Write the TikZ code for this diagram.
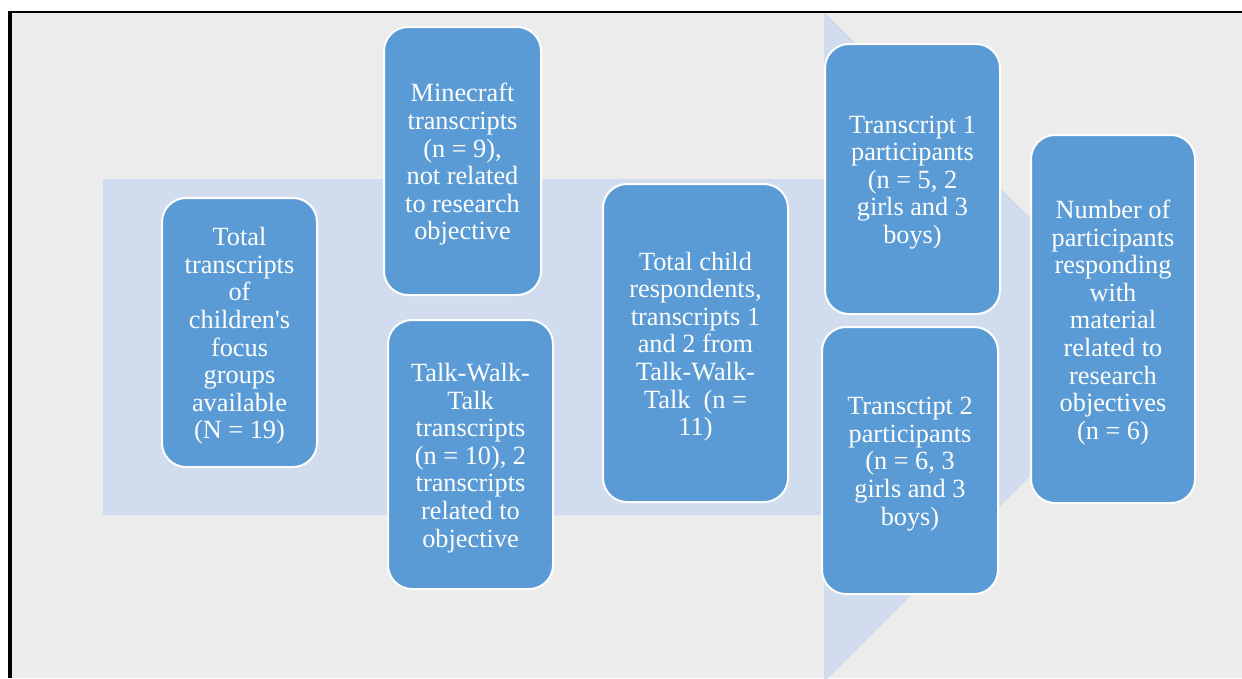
\documentclass[tikz,border=0pt]{standalone}
\usepackage{fontspec}
\setmainfont{Liberation Serif}
\definecolor{pagegray}{HTML}{ECECEC}
\definecolor{arrowblue}{HTML}{D1DCEE}
\definecolor{boxblue}{HTML}{5B9BD5}
\tikzset{
  stagebox/.style={draw=white, line width=2pt, fill=boxblue, rounded corners=24pt,
    inner sep=0pt},
  stagetext/.style={text=white, align=center, inner sep=0pt,
    font=\fontsize{26.3}{27.6}\selectfont},
}
\begin{document}
\begin{tikzpicture}[x=1pt,y=-1pt]
\useasboundingbox (0,0) rectangle (1242,678);
\fill[white] (0,0) rectangle (1242,678);
\fill[pagegray] (12,13) rectangle (1242,678);

% background block arrow
\begin{scope}
  \clip (12,13) rectangle (1242,678);
  \fill[arrowblue] (103,179) -- (824,179) -- (824,12) -- (1159,347)
    -- (824,682) -- (824,515) -- (103,515) -- cycle;
\end{scope}

% stage boxes
\node[stagebox, minimum width=155pt, minimum height=269pt] (total) at (239.5,332.5) {};
\node[stagebox, minimum width=157pt, minimum height=268pt] (mine) at (462.5,161) {};
\node[stagebox, minimum width=165pt, minimum height=269pt] (twt) at (470.5,454.5) {};
\node[stagebox, minimum width=185pt, minimum height=318pt] (child) at (695.5,343) {};
\node[stagebox, minimum width=175pt, minimum height=270pt] (tone) at (912.5,179) {};
\node[stagebox, minimum width=176pt, minimum height=267pt] (ttwo) at (910,460.5) {};
\node[stagebox, minimum width=164pt, minimum height=368pt] (resp) at (1113,319) {};

% stage texts
\node[stagetext] (totaltxt) at ([yshift=-3.5pt]total.center)
  {Total\\transcripts\\of\\children\textquotesingle s\\focus\\groups\\available\\(N = 19)};
\node[stagetext] (minetxt) at ([yshift=-3.5pt]mine.center)
  {Minecraft\\transcripts\\(n = 9),\\not related\\to research\\objective};
\node[stagetext] (twttxt) at ([yshift=-3.5pt]twt.center)
  {Talk-Walk-\\Talk\\transcripts\\(n = 10), 2\\transcripts\\related to\\objective};
\node[stagetext] (childtxt) at ([yshift=-3.5pt]child.center)
  {Total child\\respondents,\\transcripts 1\\and 2 from\\Talk-Walk-\\Talk\ \ (n =\\11)};
\node[stagetext] (tonetxt) at ([yshift=-3.5pt]tone.center)
  {Transcript 1\\participants\\(n = 5, 2\\girls and 3\\boys)};
\node[stagetext] (ttwotxt) at ([yshift=-3.5pt]ttwo.center)
  {Transctipt 2\\participants\\(n = 6, 3\\girls and 3\\boys)};
\node[stagetext] (resptxt) at ([yshift=-3.5pt]resp.center)
  {Number of\\participants\\responding\\with\\material\\related to\\research\\objectives\\(n = 6)};

% frame edges
\draw[black, line width=2pt] (8,12) -- (1242,12);
\draw[black, line width=4pt] (10,11) -- (10,678);
\end{tikzpicture}
\end{document}
